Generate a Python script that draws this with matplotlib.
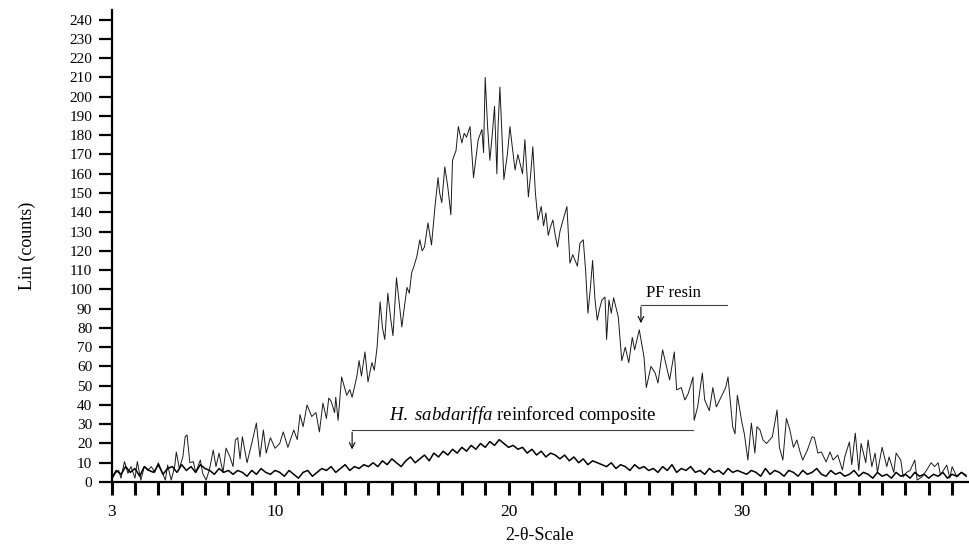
import numpy as np
import matplotlib
matplotlib.use("Agg")
import matplotlib.pyplot as plt

plt.rcParams['font.family'] = ['Liberation Serif', 'DejaVu Serif']
plt.rcParams['mathtext.fontset'] = 'custom'
plt.rcParams['mathtext.rm'] = 'Liberation Serif'
plt.rcParams['mathtext.it'] = 'Liberation Serif:italic'

# ---- PF resin scan (2-theta, counts) ----
pf_x = [3.0, 3.15, 3.3, 3.4, 3.55, 3.7, 3.83, 4.0, 4.1, 4.25, 4.4, 4.55, 4.7, 4.85, 5.0, 5.1, 5.3, 5.4, 5.55, 5.7,
        5.77, 5.9, 6.05, 6.15, 6.23, 6.35, 6.5, 6.6, 6.8, 6.9, 7.05, 7.2, 7.35, 7.47, 7.6, 7.77, 7.9, 8.07, 8.2, 8.3,
        8.4, 8.5, 8.6, 8.8, 9.0, 9.2, 9.35, 9.5, 9.62, 9.8, 10.0, 10.2, 10.35, 10.55, 10.8, 10.95, 11.07, 11.2, 11.37, 11.57,
        11.75, 11.9, 12.05, 12.2, 12.3, 12.4, 12.55, 12.6, 12.7, 12.85, 13.07, 13.2, 13.3, 13.43, 13.5, 13.6, 13.7, 13.85, 13.98, 14.15,
        14.25, 14.37, 14.5, 14.6, 14.7, 14.83, 14.95, 15.05, 15.2, 15.3, 15.43, 15.55, 15.65, 15.75, 15.85, 15.95, 16.07, 16.2, 16.3, 16.4,
        16.55, 16.7, 16.85, 16.98, 17.05, 17.14, 17.27, 17.4, 17.53, 17.6, 17.75, 17.85, 18.0, 18.1, 18.2, 18.35, 18.5, 18.6, 18.7, 18.86,
        18.93, 19.0, 19.1, 19.2, 19.3, 19.4, 19.5, 19.55, 19.63, 19.8, 19.95, 20.06, 20.15, 20.28, 20.4, 20.5, 20.6, 20.7, 20.85, 20.95,
        21.04, 21.15, 21.26, 21.4, 21.5, 21.6, 21.7, 21.8, 21.9, 22.0, 22.1, 22.2, 22.3, 22.5, 22.63, 22.75, 22.85, 22.95, 23.06, 23.2,
        23.3, 23.4, 23.5, 23.6, 23.7, 23.8, 23.9, 24.0, 24.13, 24.2, 24.3, 24.4, 24.5, 24.7, 24.85, 25.0, 25.15, 25.3, 25.4, 25.6,
        25.8, 25.9, 26.1, 26.28, 26.4, 26.6, 26.8, 26.9, 27.1, 27.2, 27.4, 27.55, 27.7, 27.9, 27.95, 28.1, 28.3, 28.4, 28.6, 28.75,
        28.9, 29.1, 29.3, 29.4, 29.6, 29.7, 29.8, 30.0, 30.1, 30.25, 30.4, 30.55, 30.64, 30.77, 30.9, 31.05, 31.3, 31.5, 31.6, 31.75,
        31.9, 32.05, 32.2, 32.35, 32.5, 32.6, 32.8, 33.0, 33.1, 33.25, 33.4, 33.6, 33.77, 33.9, 34.1, 34.3, 34.4, 34.6, 34.7, 34.85,
        35.0, 35.1, 35.3, 35.4, 35.56, 35.7, 35.8, 36.0, 36.2, 36.3, 36.5, 36.6, 36.8, 36.9, 37.05, 37.2, 37.4, 37.5, 37.7, 37.9,
        38.1, 38.25, 38.4, 38.5, 38.77, 38.9, 39.0, 39.2, 39.4, 39.6]
pf_y = [1, 4.5, 6, 2, 10.6, 4.5, 8, 2, 10.6, 1, 8, 6, 8, 5, 10, 7, 1, 8.8, 1, 8,
        15.6, 7, 13, 23.5, 24.4, 10, 10.6, 5, 11.4, 4.5, 1, 7, 16.6, 8, 15, 5, 17.6, 13, 8, 21.8,
        23, 12, 23.5, 10, 20, 30.6, 13, 27, 15, 23, 17.5, 20, 26, 18, 27, 22, 35, 28.7, 40, 34,
        36, 26, 41, 33, 43.6, 42, 36, 44, 32, 54.5, 45, 48, 44, 51, 54.6, 63, 55, 67.5, 52, 62,
        58, 70, 93.5, 80, 74, 98, 85, 76, 106, 95, 80.5, 92, 101, 98, 108.6, 112, 117, 125.7, 120, 122,
        134.5, 123, 143, 158, 150, 145, 163.6, 153, 138.7, 167, 172, 184.5, 176, 181, 179, 184.5, 158, 168, 177.7, 183,
        171, 210, 185, 167, 180, 195, 160, 184, 205, 157, 170, 184.5, 175, 162, 170, 165, 160, 177.7, 148, 160,
        174, 150, 136, 143, 133, 139.7, 128, 132.6, 136, 128, 122, 130, 134.5, 143, 113.6, 118, 115, 112, 124, 125.7,
        110, 87.6, 100, 115, 95, 84, 90, 94.5, 96, 74, 94.5, 87.6, 95.6, 85.7, 63, 70, 62, 75, 68.6, 79,
        65, 49, 60, 56.6, 51.4, 68.6, 58, 53, 67.5, 47.8, 49, 42.6, 46, 54.5, 32, 39, 56.6, 42.6, 37, 49,
        39, 44, 49, 54.5, 28.7, 25, 45, 30.6, 25, 11.4, 30.6, 15, 28.7, 27, 21.8, 20, 23.5, 37.4, 18, 11.4,
        33, 27, 18, 21.8, 15, 11.4, 16.6, 23.5, 23, 15, 15.6, 10.4, 15.6, 11.4, 14, 6.2, 13, 20.8, 9, 25.4,
        6, 20, 10, 21.8, 8, 15, 5, 18, 8, 13, 5, 15, 11.4, 2.6, 5, 6, 11.4, 1, 2.6, 6,
        10, 8, 10, 3.6, 8.8, 2, 8, 2.6, 5, 3.6]

# ---- H. sabdariffa reinforced composite scan ----
comp_x = [3.0, 3.2, 3.4, 3.6, 3.8, 4.0, 4.2, 4.4, 4.6, 4.8, 5.0, 5.2, 5.4, 5.6, 5.8, 6.0,
          6.2, 6.4, 6.6, 6.8, 7.0, 7.2, 7.4, 7.6, 7.8, 8.0,
          8.2, 8.4, 8.6, 8.8, 9.0, 9.2, 9.4, 9.6, 9.8, 10.0,
          10.2, 10.4, 10.6, 10.8, 11.0, 11.2, 11.4, 11.6, 11.8, 12.0,
          12.2, 12.4, 12.6, 12.8, 13.0, 13.2, 13.4, 13.6, 13.8, 14.0,
          14.2, 14.4, 14.6, 14.8, 15.0, 15.2, 15.4, 15.6, 15.8, 16.0,
          16.2, 16.4, 16.6, 16.8, 17.0, 17.2, 17.4, 17.6, 17.8, 18.0,
          18.2, 18.4, 18.6, 18.8, 19.0, 19.2, 19.4, 19.6, 19.8, 20.0,
          20.2, 20.4, 20.6, 20.8, 21.0, 21.2, 21.4, 21.6, 21.8, 22.0,
          22.2, 22.4, 22.6, 22.8, 23.0, 23.2, 23.4, 23.6, 23.8, 24.0,
          24.2, 24.4, 24.6, 24.8, 25.0, 25.2, 25.4, 25.6, 25.8, 26.0,
          26.2, 26.4, 26.6, 26.8, 27.0, 27.2, 27.4, 27.6, 27.8, 28.0,
          28.2, 28.4, 28.6, 28.8, 29.0, 29.2, 29.4, 29.6, 29.8, 30.0,
          30.2, 30.4, 30.6, 30.8, 31.0, 31.2, 31.4, 31.6, 31.8, 32.0,
          32.2, 32.4, 32.6, 32.8, 33.0, 33.2, 33.4, 33.6, 33.8, 34.0,
          34.2, 34.4, 34.6, 34.8, 35.0, 35.2, 35.4, 35.6, 35.8, 36.0,
          36.2, 36.4, 36.6, 36.8, 37.0, 37.2, 37.4, 37.6, 37.8, 38.0,
          38.2, 38.4, 38.6, 38.8, 39.0, 39.2, 39.4, 39.6]
comp_y = [2, 6, 4, 8, 5, 7, 3, 8, 6, 5, 9, 4, 7, 8, 5, 9,
          6, 8, 5, 9, 7, 6, 4, 7, 5, 6,
          4, 6, 5, 3, 6, 4, 7, 5, 4, 6,
          5, 3, 6, 4, 2, 5, 6, 3, 5, 7,
          6, 8, 5, 7, 9, 6, 8, 7, 9, 8,
          10, 8, 11, 9, 12, 10, 8, 11, 13, 10,
          12, 14, 11, 15, 13, 16, 14, 17, 15, 18,
          16, 19, 17, 20, 18, 21, 19, 22, 20, 18,
          19, 17, 18, 15, 17, 14, 16, 13, 15, 14,
          12, 14, 11, 13, 10, 12, 9, 11, 10, 9,
          8, 10, 7, 9, 8, 6, 9, 7, 8, 6,
          7, 5, 8, 6, 9, 5, 7, 6, 8, 5,
          6, 4, 7, 5, 6, 4, 7, 5, 6, 5,
          4, 6, 5, 3, 7, 4, 6, 5, 3, 6,
          5, 3, 6, 4, 5, 7, 4, 3, 6, 4,
          5, 3, 4, 6, 3, 5, 4, 2, 5, 3,
          4, 2, 5, 3, 4, 2, 5, 3, 4, 2,
          4, 3, 5, 2, 4, 3, 5, 3]

x_tick_labels = {3: "3", 10: "10", 20: "20", 30: "30"}
y_ticks = list(range(0, 241, 10))

fig = plt.figure(figsize=(9.69, 5.46), dpi=100)
ax = fig.add_axes([0.1152, 0.1172, 0.8838, 0.8645])

ax.plot(pf_x, pf_y, color="#1a1a1a", lw=0.7)
ax.plot(comp_x, comp_y, color="black", lw=1.1)

ax.set_xlim(3, 39.68)
ax.set_ylim(0, 245)

xt = list(range(3, 40))
ax.set_xticks(xt)
ax.set_xticklabels([x_tick_labels.get(v, "") for v in xt], fontsize=12.5)
ax.set_yticks(y_ticks)
ax.set_yticklabels([str(v) for v in y_ticks], fontsize=11)
ax.tick_params(axis="x", direction="out", length=9, width=2.2, pad=7)
ax.tick_params(axis="y", direction="out", length=9.5, width=1.6, pad=4.5)

for s in ["top", "right"]:
    ax.spines[s].set_visible(False)
for s in ["left", "bottom"]:
    ax.spines[s].set_linewidth(1.6)

ax.set_xlabel("2-\u03b8-Scale", fontsize=13, labelpad=5)
ax.set_ylabel("Lin (counts)", fontsize=13, labelpad=24)

# PF resin annotation
ax.plot([25.67, 29.35], [92, 92], color="#444444", lw=0.8)
ax.annotate("", xy=(25.67, 81), xytext=(25.67, 92.3),
            arrowprops=dict(arrowstyle="->", color="black", lw=0.8))
ax.text(25.9, 94, "PF resin", fontsize=12, ha="left", va="bottom")

# composite annotation
ax.plot([13.3, 27.9], [27, 27], color="#444444", lw=0.8)
ax.annotate("", xy=(13.3, 15.5), xytext=(13.3, 27.3),
            arrowprops=dict(arrowstyle="->", color="black", lw=0.8))
ax.text(14.9, 29, r"$\it{H.\ sabdariffa}$ reinforced composite", fontsize=13.5,
        ha="left", va="bottom")

fig.savefig("out.png", dpi=100)
